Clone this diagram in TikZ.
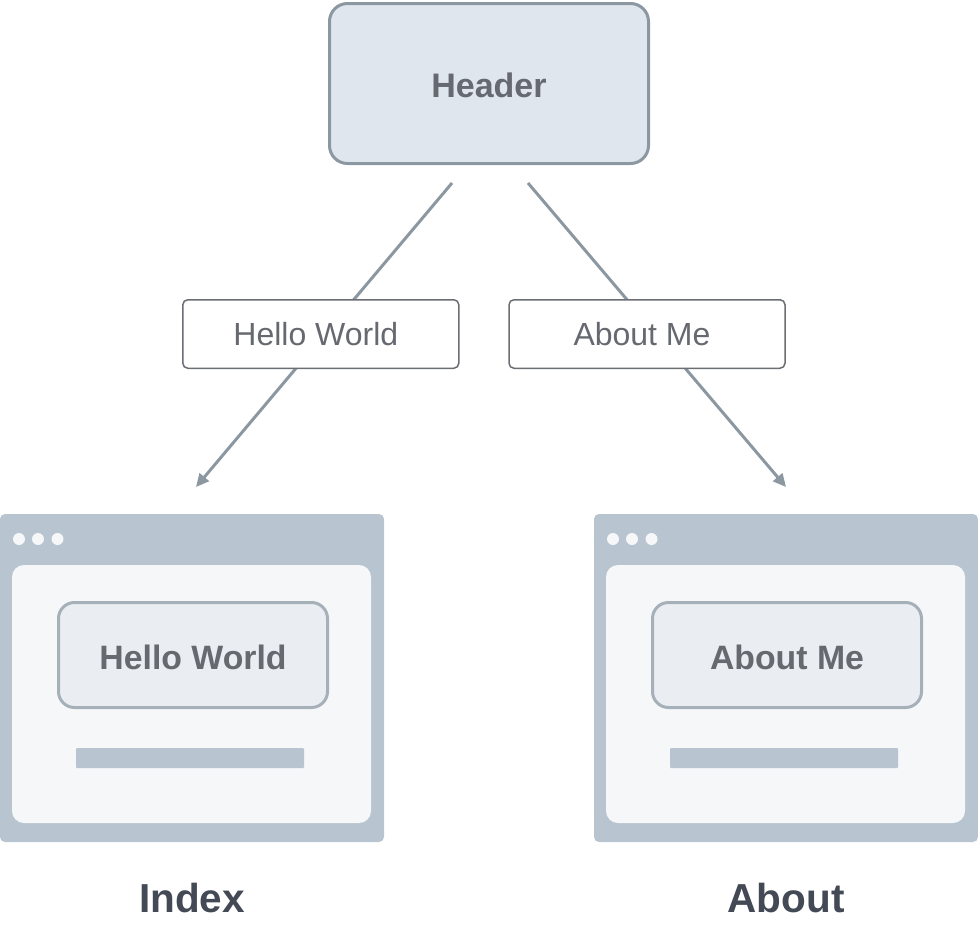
\documentclass[tikz,border=0pt]{standalone}
\usepackage{fontspec}
\setmainfont{Liberation Sans}
\usetikzlibrary{arrows.meta}
\definecolor{hdrfill}{HTML}{DFE6EE}
\definecolor{hdrline}{HTML}{8B97A1}
\definecolor{txtgray}{HTML}{66696F}
\definecolor{lblline}{HTML}{6B6E73}
\definecolor{winframe}{HTML}{B8C4CF}
\definecolor{winpanel}{HTML}{F5F7F9}
\definecolor{btnfill}{HTML}{EAEEF2}
\definecolor{btnline}{HTML}{A6B0B9}
\definecolor{titletxt}{HTML}{434A55}
\tikzset{
  hdrbox/.style={draw=hdrline, fill=hdrfill, line width=3pt, rounded corners=18pt,
    inner sep=0pt, minimum width=319pt, minimum height=160pt, text=txtgray,
    text height=28.4pt, text depth=0pt,
    font=\fontsize{34}{40}\selectfont\bfseries},
  lblbox/.style={draw=lblline, fill=white, line width=1.5pt, rounded corners=5pt,
    inner sep=0pt, minimum width=276pt, minimum height=68.5pt, text=txtgray,
    text height=23.5pt, text depth=0pt,
    font=\fontsize{32}{38}\selectfont},
  conn/.style={draw=hdrline, line width=3pt, -{Triangle[length=13pt,width=12pt]}},
  btnbox/.style={draw=btnline, fill=btnfill, line width=3pt, rounded corners=16pt,
    inner sep=0pt, minimum width=269pt, minimum height=105pt, text=txtgray,
    text height=28.2pt, text depth=0pt,
    font=\fontsize{33.8}{40}\selectfont\bfseries},
  titletext/.style={text=titletxt, inner sep=0pt, font=\fontsize{40.5}{48}\selectfont\bfseries},
  dotmark/.style={fill=winpanel, draw=none}
}
\begin{document}
\begin{tikzpicture}[x=1pt,y=-1pt]
\useasboundingbox (0,0) rectangle (978,926);
% header
\node[hdrbox] (header) at (489,83.5) {Header};
% connectors
\coordinate (ls) at (452,183);
\coordinate (le) at (196,487);
\coordinate (rs) at (528,183);
\coordinate (re) at (786,487);
\draw[conn] (ls) -- (le);
\draw[conn] (rs) -- (re);
% labels
\node[lblbox] (lblhello) at (320.8,334) {\hspace*{-10pt}Hello World};
\node[lblbox] (lblabout) at (647,334) {\hspace*{-10pt}About Me};
% windows
\foreach \off/\txt/\nm in {0/Hello World/a, 594/About Me/b}{
  \begin{scope}[xshift=\off pt]
    \fill[winframe, rounded corners=5pt] (0,514) rectangle (384,842);
    \fill[winpanel, rounded corners=12pt] (12,565) rectangle (371,823);
    \fill[dotmark] (19,539) circle[radius=6pt];
    \fill[dotmark] (38,539) circle[radius=6pt];
    \fill[dotmark] (57.5,539) circle[radius=6pt];
    \node[btnbox] (btn\nm) at (193,655) {\txt};
    \fill[winframe, rounded corners=1pt] (76,748) rectangle (304,768);
  \end{scope}
}
% titles
\node[titletext] (tindex) at (192,898.5) {Index};
\node[titletext] (tabout) at (786,898.5) {About};
\end{tikzpicture}
\end{document}
